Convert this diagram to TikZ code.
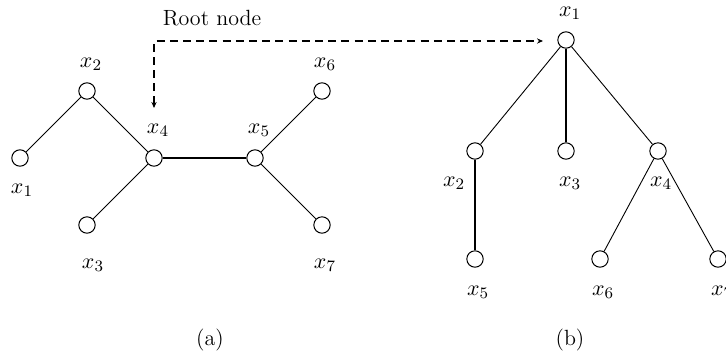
\documentclass[tikz,border=0pt]{standalone}
\usetikzlibrary{arrows.meta}
\begin{document}
\begin{tikzpicture}[x=0.5pt,y=-0.5pt,
  vert/.style={circle,draw,line width=0.5pt,minimum size=8.2pt,inner sep=0pt},
  lbl/.style={inner sep=0pt,font=\fontsize{11}{13}\selectfont},
  thin edge/.style={line width=0.45pt},
  bold edge/.style={line width=1.2pt},
  rootarrow/.style={line width=1pt,dash pattern=on 4pt off 2.6pt,
    {Stealth[length=3pt,width=2.6pt]}-{Stealth[length=3pt,width=2.6pt]}}]
\useasboundingbox (0,0) rectangle (726,354);
% (a)
\node[vert] (a1) at (20,158) {};
\node[vert] (a2) at (87,91) {};
\node[vert] (a3) at (87,225) {};
\node[vert] (a4) at (154,158) {};
\node[vert] (a5) at (255,158) {};
\node[vert] (a6) at (322,91) {};
\node[vert] (a7) at (322,225) {};
\node[lbl] (la1) at (22,190) {$x_1$};
\node[lbl] (la2) at (91,64) {$x_2$};
\node[lbl] (la3) at (93,265) {$x_3$};
\node[lbl] (la4) at (158,130) {$x_4$};
\node[lbl] (la5) at (259,130) {$x_5$};
\node[lbl] (la6) at (325,64) {$x_6$};
\node[lbl] (la7) at (325,265) {$x_7$};
\draw[thin edge] (a1) -- (a2);
\draw[thin edge] (a2) -- (a4);
\draw[thin edge] (a3) -- (a4);
\draw[bold edge] (a4) -- (a5);
\draw[thin edge] (a5) -- (a6);
\draw[thin edge] (a5) -- (a7);
\node[lbl] (capa) at (210,340) {(a)};
% (b)
\node[vert] (b1) at (566,40) {};
\node[vert] (b2) at (475,151) {};
\node[vert] (b3) at (566,151) {};
\node[vert] (b4) at (658,151) {};
\node[vert] (b5) at (475,259) {};
\node[vert] (b6) at (600,259) {};
\node[vert] (b7) at (718,259) {};
\node[lbl] (lb1) at (570,13) {$x_1$};
\node[lbl] (lb2) at (454,183) {$x_2$};
\node[lbl] (lb3) at (570,183) {$x_3$};
\node[lbl] (lb4) at (661,183) {$x_4$};
\node[lbl] (lb5) at (478,292) {$x_5$};
\node[lbl] (lb6) at (603,292) {$x_6$};
\node[lbl] (lb7) at (722,292) {$x_7$};
\draw[thin edge] (b1) -- (b2);
\draw[bold edge] (b1) -- (b3);
\draw[thin edge] (b1) -- (b4);
\draw[bold edge] (b2) -- (b5);
\draw[thin edge] (b4) -- (b6);
\draw[thin edge] (b4) -- (b7);
\node[lbl] (capb) at (570,340) {(b)};
% root arrow
\node[lbl] (root) at (212,18) {Root node};
\coordinate (tipa) at (154,108);
\coordinate (corner) at (154,41);
\coordinate (tipb) at (543,40);
\draw[rootarrow] (tipa) -- (corner) -- (tipb |- corner);
\end{tikzpicture}
\end{document}
